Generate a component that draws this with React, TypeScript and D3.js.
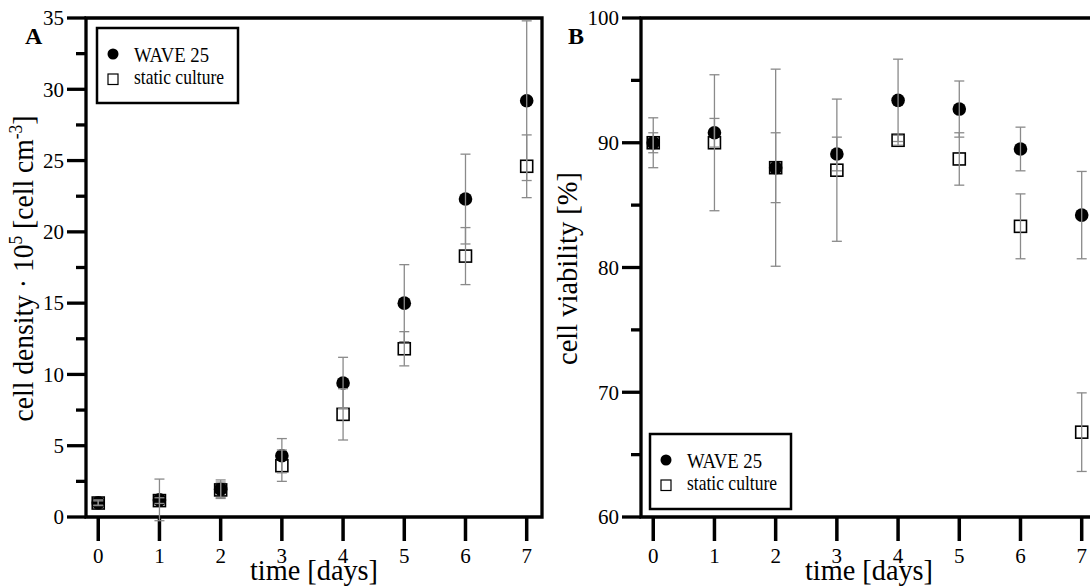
import React from 'react';
import * as d3 from 'd3';

// values
const days = [0, 1, 2, 3, 4, 5, 6, 7];
const seriesNames = ['WAVE 25', 'static culture'];

// panel A: cell density (x 10^5 cell/cm3)
const waveDensity = [1.0, 1.2, 1.95, 4.3, 9.4, 15.0, 22.3, 29.2];
const waveDensityErr = [0.2, 1.46, 0.65, 1.2, 1.8, 2.7, 3.15, 5.6];
const staticDensity = [0.98, 1.15, 1.9, 3.6, 7.2, 11.8, 18.3, 24.6];
const staticDensityErr = [0.15, 0.2, 0.55, 1.1, 1.8, 1.2, 2.0, 2.2];
const densityTicks = [0, 2.5, 5, 7.5, 10, 12.5, 15, 17.5, 20, 22.5, 25, 27.5, 30, 32.5, 35];
const densityLabels = [0, 5, 10, 15, 20, 25, 30, 35];

// panel B: cell viability (%)
const waveViability = [90.0, 90.8, 88.0, 89.1, 93.4, 92.7, 89.5, 84.2];
const waveViabilityErr = [2.0, 1.15, 7.9, 1.35, 3.3, 2.25, 1.75, 3.5];
const staticViability = [90.0, 90.0, 88.0, 87.8, 90.2, 88.7, 83.3, 66.8];
const staticViabilityErr = [0.8, 5.45, 2.8, 5.7, 0.4, 2.1, 2.6, 3.15];
const viabilityTicks = [60, 65, 70, 75, 80, 85, 90, 95, 100];
const viabilityLabels = [60, 70, 80, 90, 100];

const serif = '"Liberation Serif", "Times New Roman", Times, serif';
const W = 1090;
const H = 588;
const TOP = 18;
const BOTTOM = 517;

function Panel({ x0, x1, yDomain, yTicks, yLabels, wave, waveErr, stat, statErr, letter, letterX,
  yTitle, yTitleX, yTitleLen, legend }) {
  const x = d3.scaleLinear().domain([-0.2, 7.25]).range([x0, x1]);
  const y = d3.scaleLinear().domain(yDomain).range([BOTTOM, TOP]);

  const errBar = (v, e, i, key) => {
    const cx = x(days[i]);
    return (
      <g key={key} stroke="#8a8a8a" strokeWidth={1.3}>
        <line x1={cx} x2={cx} y1={y(v - e)} y2={y(v + e)} />
        <line x1={cx - 5} x2={cx + 5} y1={y(v - e)} y2={y(v - e)} />
        <line x1={cx - 5} x2={cx + 5} y1={y(v + e)} y2={y(v + e)} />
      </g>
    );
  };

  return (
    <g>
      {/* frame */}
      <path d={`M${x0},${BOTTOM}L${x0},${TOP}L${x1},${TOP}L${x1},${BOTTOM}Z`}
        fill="none" stroke="#000" strokeWidth={3.3} />
      {yTicks.map(t => {
        const major = yLabels.includes(t);
        return <line key={'yt' + t} x1={x0 - (major ? 19 : 10)} x2={x0} y1={y(t)} y2={y(t)}
          stroke="#000" strokeWidth={3.3} />;
      })}
      {yLabels.map(t => (
        <text key={'yl' + t} x={x0 - 22} y={y(t)} dy="0.35em" textAnchor="end"
          fontFamily={serif} fontSize={21}>{t}</text>
      ))}
      {days.map(d => (
        <g key={'xt' + d}>
          <line x1={x(d)} x2={x(d)} y1={BOTTOM} y2={BOTTOM + 24} stroke="#000" strokeWidth={3.5} />
          <text x={x(d)} y={563} textAnchor="middle" fontFamily={serif} fontSize={21}>{d}</text>
        </g>
      ))}

      {/* markers */}
      {stat.map((v, i) => (
        <rect key={'s' + i} x={x(days[i]) - 6} y={y(v) - 6} width={12} height={12}
          fill="#fff" stroke="#000" strokeWidth={1.6} />
      ))}
      {wave.map((v, i) => (
        <circle key={'w' + i} cx={x(days[i])} cy={y(v)} r={6.8} fill="#000" />
      ))}
      {stat.map((v, i) => errBar(v, statErr[i], i, 'se' + i))}
      {wave.map((v, i) => errBar(v, waveErr[i], i, 'we' + i))}

      {/* titles */}
      <text x={letterX} y={44} fontFamily={serif} fontSize={24} fontWeight="bold">{letter}</text>
      <text x={(x0 + x1) / 2} y={580} textAnchor="middle" fontFamily={serif} fontSize={29}
        textLength={128} lengthAdjust="spacingAndGlyphs">time [days]</text>
      <text transform={`translate(${yTitleX},${(TOP + BOTTOM) / 2 + 1}) rotate(-90)`} textAnchor="middle"
        fontFamily={serif} fontSize={30} textLength={yTitleLen} lengthAdjust="spacingAndGlyphs">
        {yTitle}
      </text>

      {/* legend */}
      <g transform={`translate(${legend[0]},${legend[1]})`}>
        <rect x={0} y={0} width={141} height={75} fill="#fff" stroke="#000" strokeWidth={2.5} />
        <circle cx={16} cy={26} r={5.5} fill="#000" />
        <rect x={11} y={46} width={10} height={10.5} fill="#fff" stroke="#000" strokeWidth={1.2} />
        <text x={37} y={34} fontFamily={serif} fontSize={21} textLength={75}
          lengthAdjust="spacingAndGlyphs">{seriesNames[0]}</text>
        <text x={37} y={56} fontFamily={serif} fontSize={21} textLength={90}
          lengthAdjust="spacingAndGlyphs">{seriesNames[1]}</text>
      </g>
    </g>
  );
}

export default function App() {
  return (
    <svg width={W} height={H} style={{ position: 'absolute', left: 0, top: 0, background: '#fff' }}>
      <Panel x0={86} x1={542} yDomain={[0, 35]} yTicks={densityTicks} yLabels={densityLabels}
        wave={waveDensity} waveErr={waveDensityErr} stat={staticDensity} statErr={staticDensityErr}
        letter="A" letterX={25} yTitleX={33} yTitleLen={306} legend={[97, 28]}
        yTitle={<>cell density · 10<tspan fontSize={19} dy={-11}>5</tspan><tspan dy={11}> [cell cm</tspan><tspan fontSize={19} dy={-11}>-3</tspan><tspan dy={11}>]</tspan></>} />
      <Panel x0={641} x1={1097} yDomain={[60, 100]} yTicks={viabilityTicks} yLabels={viabilityLabels}
        wave={waveViability} waveErr={waveViabilityErr} stat={staticViability} statErr={staticViabilityErr}
        letter="B" letterX={568} yTitleX={577} yTitleLen={193} legend={[650, 434]}
        yTitle="cell viability [%]" />
    </svg>
  );
}
